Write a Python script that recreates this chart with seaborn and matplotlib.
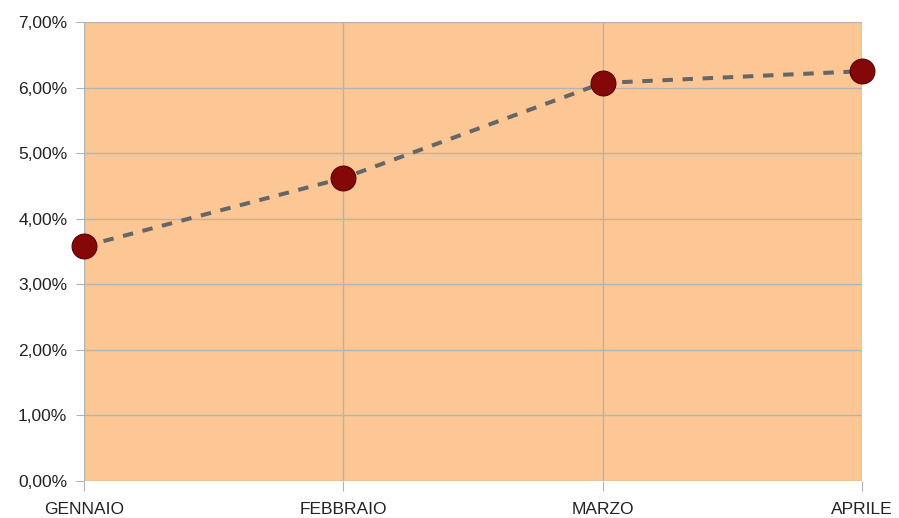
import matplotlib
matplotlib.use("Agg")
import matplotlib.pyplot as plt
import seaborn as sns
import pandas as pd
from matplotlib.ticker import FuncFormatter

mesi = ["GENNAIO", "FEBBRAIO", "MARZO", "APRILE"]
valori = [3.58, 4.62, 6.07, 6.25]  # percentuali
yticks = [0, 1, 2, 3, 4, 5, 6, 7]

df = pd.DataFrame({"mese": mesi, "valore": valori})
df["pos"] = range(len(mesi))

sns.set_style("white")
plt.rcParams['font.family'] = ['Liberation Sans', 'DejaVu Sans']

fig = plt.figure(figsize=(8.99, 5.18), dpi=100)
ax = fig.add_axes([84/899, 1 - 481/518, (862 - 84)/899, (481 - 22)/518])
ax.set_facecolor("#fcc794")

sns.lineplot(data=df, x="pos", y="valore", ax=ax, color="#666666",
             linestyle=(0, (2.6, 2.4)), linewidth=2.9, zorder=3)
sns.scatterplot(data=df, x="pos", y="valore", ax=ax, s=320, color="#850808",
                edgecolor="#5a0000", linewidth=0.8, zorder=4, clip_on=False)

ax.set_xlim(0, len(mesi) - 1)
ax.set_ylim(0, 7)
ax.set_xticks(range(len(mesi)))
ax.set_xticklabels(mesi)
ax.set_yticks(yticks)
ax.yaxis.set_major_formatter(FuncFormatter(lambda v, p: f"{v:.2f}%".replace(".", ",")))
ax.grid(True, color="#b3b3b3", linewidth=1)
ax.set_axisbelow(True)
for s in ax.spines.values():
    s.set_visible(False)
ax.tick_params(axis="y", length=6, color="#b3b3b3", labelsize=12.5,
               labelcolor="#222222", pad=6, left=True)
ax.tick_params(axis="x", length=7, color="#b3b3b3", labelsize=12.5,
               labelcolor="#222222", pad=8, bottom=True)
ax.set_xlabel("")
ax.set_ylabel("")

fig.savefig("out.png", dpi=100)
